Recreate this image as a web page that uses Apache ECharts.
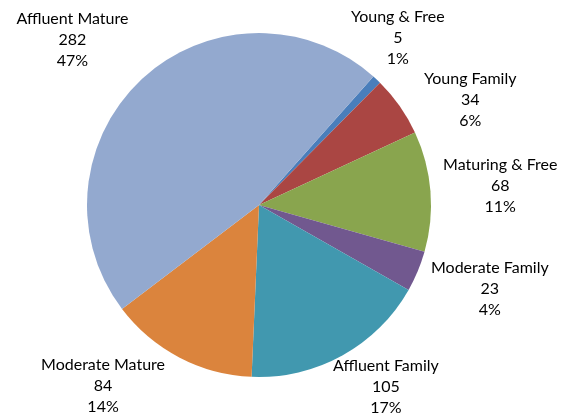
<!DOCTYPE html>
<html>
<head>
<meta charset="utf-8">
<script src="https://cdn.jsdelivr.net/npm/echarts@6/dist/echarts.min.js"></script>
<style>
  html, body { margin: 0; padding: 0; background: #fff; }
  #chart { width: 570px; height: 414px; }
</style>
</head>
<body>
<div id="chart"></div>
<script>
// segment data, clockwise from the top right
var segments = ['Young & Free', 'Young Family', 'Maturing & Free', 'Moderate Family', 'Affluent Family', 'Moderate Mature', 'Affluent Mature']
var counts = [5, 34, 68, 23, 105, 84, 282]
var colors = ['#4A7EBB', '#AA4643', '#89A54E', '#71588F', '#4198AF', '#DB843D', '#93A9CF']

// label placement (Excel "best fit" look): distance along mid angle + small nudges
var cx = 259, cy = 205, R = 172, startAngle = 48.3
var labelDist = 235
var labelNudge = [[-22, 4], [19, 30], [7, 0], [14, -7], [13, -24], [-47, -27], [-27, 7]]

var total = counts.reduce(function (a, b) { return a + b }, 0)

function labelPos(i) {
    var before = 0
    for (var k = 0; k < i; k++) before += counts[k]
    var mid = before + counts[i] / 2
    // clockwise from the start angle, ECharts angles are ccw from 3 o'clock
    var ang = (startAngle - mid / total * 360) * Math.PI / 180
    return {
        x: cx + labelDist * Math.cos(ang) + labelNudge[i][0],
        y: cy - labelDist * Math.sin(ang) + labelNudge[i][1]
    }
}

var dom = document.getElementById('chart')
var chart = echarts.init(dom)

var option = {
    animation: false,
    color: colors,
    series: [{
        type: 'pie',
        center: [cx, cy],
        radius: R,
        startAngle: startAngle,
        clockwise: true,
        percentPrecision: 0,
        avoidLabelOverlap: false,
        itemStyle: { borderWidth: 0 },
        label: {
            show: true,
            position: 'outside',
            formatter: '{b}\n{c}\n{d}%',
            fontFamily: 'Lato',
            fontSize: 16,
            lineHeight: 21,
            color: '#000'
        },
        labelLine: { show: false },
        labelLayout: function (params) {
            var p = labelPos(params.dataIndex)
            return { x: p.x, y: p.y, align: 'center', verticalAlign: 'middle' }
        },
        emphasis: { disabled: true },
        data: segments.map(function (name, i) {
            return { name: name, value: counts[i] }
        })
    }]
}

chart.setOption(option)
</script>
</body>
</html>
